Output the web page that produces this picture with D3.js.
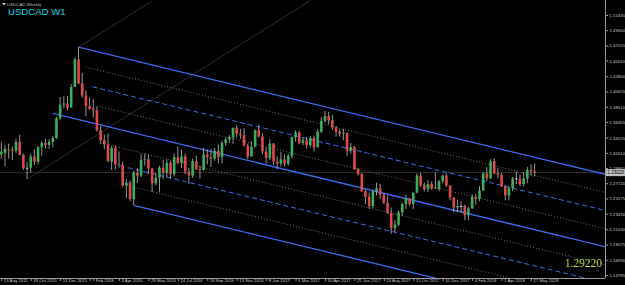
<!DOCTYPE html>
<html>
<head>
<meta charset="utf-8">
<script src="https://cdn.jsdelivr.net/npm/d3@7"></script>
<style>
html, body { margin: 0; padding: 0; background: #000; }
svg { display: block; }
</style>
</head>
<body>
<svg id="chart" width="625" height="285"></svg>
<script>
// weekly USDCAD bars, first bar is the week of 23 Aug 2015 — [open, high, low, close]
const candles = [
	[1.3180, 1.3353, 1.3120, 1.3215], [1.3200, 1.3310, 1.3010, 1.3255], [1.3250, 1.3330, 1.3120, 1.3245],
	[1.3245, 1.3290, 1.3100, 1.3230], [1.3230, 1.3400, 1.3200, 1.3355], [1.3360, 1.3457, 1.3240, 1.3170],
	[1.3170, 1.3190, 1.2960, 1.2990], [1.2990, 1.3070, 1.2832, 1.2990], [1.2990, 1.3190, 1.2920, 1.3150],
	[1.3150, 1.3250, 1.3030, 1.3075], [1.3075, 1.3300, 1.3040, 1.3280], [1.3280, 1.3370, 1.3160, 1.3340],
	[1.3340, 1.3400, 1.3260, 1.3310], [1.3310, 1.3390, 1.3260, 1.3355], [1.3355, 1.3440, 1.3280, 1.3410],
	[1.3410, 1.3710, 1.3400, 1.3690], [1.3690, 1.3990, 1.3660, 1.3880], [1.3880, 1.4000, 1.3830, 1.3895],
	[1.3895, 1.4003, 1.3800, 1.3840], [1.3840, 1.4170, 1.3840, 1.4130], [1.4130, 1.4550, 1.4130, 1.4520],
	[1.4520, 1.4690, 1.4170, 1.4180], [1.4180, 1.4330, 1.3980, 1.4010], [1.4010, 1.4080, 1.3720, 1.3860],
	[1.3860, 1.3990, 1.3800, 1.3820], [1.3820, 1.3960, 1.3700, 1.3800], [1.3800, 1.3860, 1.3500, 1.3520],
	[1.3520, 1.3580, 1.3330, 1.3380], [1.3380, 1.3460, 1.3250, 1.3320], [1.3320, 1.3470, 1.3080, 1.3080],
	[1.3080, 1.3300, 1.2960, 1.3270], [1.3270, 1.3300, 1.2970, 1.3040], [1.3040, 1.3220, 1.2990, 1.3030],
	[1.3030, 1.3080, 1.2720, 1.2740], [1.2740, 1.2830, 1.2560, 1.2780], [1.2780, 1.2810, 1.2520, 1.2550],
	[1.2550, 1.2950, 1.2461, 1.2920], [1.2920, 1.2990, 1.2780, 1.2880], [1.2880, 1.3190, 1.2860, 1.3100],
	[1.3100, 1.3190, 1.3020, 1.3110], [1.3110, 1.3180, 1.2900, 1.2980], [1.2980, 1.2990, 1.2650, 1.2770],
	[1.2770, 1.2920, 1.2740, 1.2850], [1.2850, 1.3020, 1.2650, 1.2990], [1.2990, 1.3100, 1.2830, 1.2920],
	[1.2920, 1.3110, 1.2850, 1.3060], [1.3060, 1.3090, 1.2840, 1.2900], [1.2900, 1.3190, 1.2870, 1.3140],
	[1.3140, 1.3290, 1.3040, 1.3060], [1.3060, 1.3250, 1.2990, 1.3150], [1.3150, 1.3190, 1.2900, 1.2940],
	[1.2940, 1.2990, 1.2761, 1.2880], [1.2880, 1.3120, 1.2850, 1.3080], [1.3080, 1.3160, 1.2960, 1.2970],
	[1.2970, 1.3020, 1.2840, 1.2960], [1.2960, 1.3270, 1.2950, 1.3180], [1.3180, 1.3250, 1.3040, 1.3140],
	[1.3140, 1.3250, 1.3000, 1.3120], [1.3120, 1.3270, 1.3090, 1.3230], [1.3230, 1.3320, 1.3050, 1.3140],
	[1.3140, 1.3370, 1.3050, 1.3340], [1.3340, 1.3420, 1.3300, 1.3390], [1.3390, 1.3450, 1.3340, 1.3420],
	[1.3420, 1.3560, 1.3330, 1.3550], [1.3550, 1.3590, 1.3420, 1.3470], [1.3470, 1.3540, 1.3400, 1.3450],
	[1.3450, 1.3550, 1.3290, 1.3300], [1.3300, 1.3330, 1.3110, 1.3150], [1.3150, 1.3370, 1.3150, 1.3290],
	[1.3290, 1.3530, 1.3280, 1.3520], [1.3520, 1.3600, 1.3420, 1.3430], [1.3430, 1.3480, 1.3180, 1.3220],
	[1.3220, 1.3280, 1.3050, 1.3130], [1.3130, 1.3390, 1.3100, 1.3330], [1.3330, 1.3340, 1.3030, 1.3080],
	[1.3080, 1.3150, 1.2969, 1.3050], [1.3050, 1.3210, 1.3010, 1.3110], [1.3110, 1.3180, 1.3010, 1.3050],
	[1.3050, 1.3190, 1.3020, 1.3160], [1.3160, 1.3430, 1.3120, 1.3420], [1.3420, 1.3520, 1.3360, 1.3490],
	[1.3490, 1.3510, 1.3320, 1.3340], [1.3340, 1.3420, 1.3310, 1.3380], [1.3380, 1.3420, 1.3260, 1.3310],
	[1.3310, 1.3440, 1.3280, 1.3410], [1.3410, 1.3440, 1.3220, 1.3280], [1.3280, 1.3540, 1.3280, 1.3500],
	[1.3500, 1.3700, 1.3480, 1.3650], [1.3650, 1.3793, 1.3630, 1.3720], [1.3720, 1.3780, 1.3600, 1.3660],
	[1.3660, 1.3740, 1.3520, 1.3560], [1.3560, 1.3580, 1.3430, 1.3500], [1.3500, 1.3530, 1.3430, 1.3470],
	[1.3470, 1.3540, 1.3380, 1.3480], [1.3480, 1.3490, 1.3160, 1.3230], [1.3230, 1.3340, 1.3190, 1.3280],
	[1.3280, 1.3300, 1.2960, 1.2970], [1.2970, 1.2990, 1.2880, 1.2900], [1.2900, 1.2920, 1.2650, 1.2660],
	[1.2660, 1.2680, 1.2480, 1.2580], [1.2580, 1.2640, 1.2410, 1.2450], [1.2450, 1.2670, 1.2420, 1.2660],
	[1.2660, 1.2780, 1.2600, 1.2700], [1.2700, 1.2760, 1.2550, 1.2610], [1.2610, 1.2630, 1.2480, 1.2500],
	[1.2500, 1.2600, 1.2340, 1.2350], [1.2350, 1.2430, 1.2061, 1.2140], [1.2140, 1.2250, 1.2080, 1.2190],
	[1.2190, 1.2390, 1.2170, 1.2360], [1.2360, 1.2500, 1.2310, 1.2480], [1.2480, 1.2610, 1.2410, 1.2560],
	[1.2560, 1.2560, 1.2450, 1.2480], [1.2480, 1.2640, 1.2410, 1.2640], [1.2640, 1.2910, 1.2630, 1.2880],
	[1.2880, 1.2920, 1.2720, 1.2740], [1.2740, 1.2780, 1.2660, 1.2690], [1.2690, 1.2820, 1.2650, 1.2760],
	[1.2760, 1.2800, 1.2680, 1.2700], [1.2700, 1.2920, 1.2690, 1.2690], [1.2690, 1.2820, 1.2660, 1.2800],
	[1.2800, 1.2890, 1.2770, 1.2880], [1.2880, 1.2910, 1.2720, 1.2740], [1.2740, 1.2740, 1.2530, 1.2570],
	[1.2570, 1.2580, 1.2360, 1.2430], [1.2430, 1.2540, 1.2370, 1.2450], [1.2450, 1.2520, 1.2360, 1.2450],
	[1.2450, 1.2470, 1.2250, 1.2320], [1.2320, 1.2440, 1.2250, 1.2420], [1.2420, 1.2620, 1.2410, 1.2580],
	[1.2580, 1.2620, 1.2470, 1.2550], [1.2550, 1.2730, 1.2520, 1.2670], [1.2670, 1.2930, 1.2660, 1.2910],
	[1.2910, 1.3000, 1.2800, 1.2840], [1.2840, 1.3110, 1.2840, 1.3080], [1.3080, 1.3125, 1.2900, 1.2910],
	[1.2910, 1.2990, 1.2840, 1.2890], [1.2890, 1.2920, 1.2720, 1.2730], [1.2730, 1.2750, 1.2530, 1.2600],
	[1.2600, 1.2730, 1.2530, 1.2700], [1.2700, 1.2860, 1.2660, 1.2840], [1.2840, 1.2940, 1.2760, 1.2840],
	[1.2840, 1.2890, 1.2730, 1.2760], [1.2760, 1.2930, 1.2730, 1.2840], [1.2840, 1.3000, 1.2770, 1.2960],
	[1.2960, 1.3040, 1.2880, 1.2940], [1.2940, 1.3050, 1.2870, 1.2922]
]

const priceLabels = ['1.51445', '1.49300', '1.47155', '1.45010', '1.42800', '1.40655', '1.38510', '1.36365', '1.34155',
	'1.32010', '1.29865', '1.27720', '1.25575', '1.23430', '1.21230', '1.19075', '1.16930', '1.14785']
const dateLabels = ['23 Aug 2015', '18 Oct 2015', '13 Dec 2015', '7 Feb 2016', '3 Apr 2016', '29 May 2016', '24 Jul 2016',
	'18 Sep 2016', '13 Nov 2016', '8 Jan 2017', '5 Mar 2017', '30 Apr 2017', '25 Jun 2017', '20 Aug 2017',
	'15 Oct 2017', '10 Dec 2017', '4 Feb 2018', '1 Apr 2018', '27 May 2018']
const dateLabelEvery = 8
const lastPrice = 1.29220

// pitchfork anchors: handle, upper, lower (bar index, price)
const forkPoints = [[14, 1.3757], [21, 1.4690], [36, 1.2461]]
const forkLevels = [0, 0.25, 0.5, 0.75, 1, 1.25, 1.5, 1.75, 2]

// faint rising trend lines (bar index, price) pairs
const trendLines = [
	[[7, 1.2832], [84, 1.5348]],
	[[21, 1.4690], [41, 1.5343]]
]

const width = 625
const height = 285
const plot = { left: 0, right: 605, top: 0, bottom: 278 }

const svg = d3.select('#chart')
svg.append('rect').attr('width', width).attr('height', height).attr('fill', '#000')

const x = d3.scaleLinear().domain([0, 144]).range([1.3, 531])
const y = d3.scaleLinear().domain([1.14785, 1.51445]).range([275, 15])

svg.append('clipPath').attr('id', 'plotclip')
	.append('rect').attr('x', plot.left).attr('y', plot.top)
	.attr('width', plot.right - plot.left).attr('height', plot.bottom - plot.top)

const g = svg.append('g').attr('clip-path', 'url(#plotclip)')

// bid line
g.append('line')
	.attr('x1', plot.left).attr('x2', plot.right)
	.attr('y1', y(lastPrice)).attr('y2', y(lastPrice))
	.attr('stroke', '#2c2c2c').attr('stroke-width', 1)

g.selectAll('.trend')
	.data(trendLines)
	.join('line')
	.attr('class', 'trend')
	.attr('x1', d => x(d[0][0])).attr('y1', d => y(d[0][1]))
	.attr('x2', d => x(d[1][0])).attr('y2', d => y(d[1][1]))
	.attr('stroke', '#3a3a3a').attr('stroke-width', 0.8)

// pitchfork
const [p1, p2, p3] = forkPoints
const mid = [(p2[0] + p3[0]) / 2, (p2[1] + p3[1]) / 2]
const slope = (mid[1] - p1[1]) / (mid[0] - p1[0])
const endBar = x.invert(plot.right + 5)

forkLevels.forEach(t => {
	const start = t === 1 ? p1 : [p2[0] + (p3[0] - p2[0]) * t / 2, p2[1] + (p3[1] - p2[1]) * t / 2]
	const endPrice = start[1] + slope * (endBar - start[0])
	const whole = t % 1 === 0
	const half = !whole && t % 0.5 === 0
	g.append('line')
		.attr('x1', x(start[0])).attr('y1', y(start[1]))
		.attr('x2', x(endBar)).attr('y2', y(endPrice))
		.attr('stroke', whole || half ? '#3a6cf0' : '#6e6e6e')
		.attr('stroke-width', whole ? 1.3 : 1)
		.attr('stroke-dasharray', whole ? null : half ? '5,3' : '1,2')
})

// candles
const bar = g.append('g').selectAll('g')
	.data(candles)
	.join('g')

bar.append('line')
	.attr('x1', (d, i) => x(i)).attr('x2', (d, i) => x(i))
	.attr('y1', d => y(d[1])).attr('y2', d => y(d[2]))
	.attr('stroke', '#bdbdbd').attr('stroke-width', 0.8)

bar.append('rect')
	.attr('x', (d, i) => x(i) - 1.3)
	.attr('width', 2.6)
	.attr('y', d => y(Math.max(d[0], d[3])))
	.attr('height', d => Math.max(0.8, Math.abs(y(d[0]) - y(d[3]))))
	.attr('fill', d => d[3] > d[0] ? '#3cae5c' : d[3] < d[0] ? '#dd4a4a' : '#e0e0e0')

// axes
const yAxis = d3.axisRight(y)
	.tickValues(priceLabels.map(Number))
	.tickFormat((d, i) => priceLabels[i])
	.tickSize(3)
	.tickPadding(1.5)

const yg = svg.append('g').attr('transform', `translate(${plot.right},0)`).call(yAxis)
yg.select('.domain').attr('d', `M0.5,0V${plot.bottom}`).attr('stroke', '#9a9a9a')

const xAxis = d3.axisBottom(x)
	.tickValues(dateLabels.map((d, i) => i * dateLabelEvery))
	.tickFormat((d, i) => dateLabels[i])
	.tickSize(3)
	.tickPadding(0)

const xg = svg.append('g').attr('transform', `translate(0,${plot.bottom})`).call(xAxis)
xg.select('.domain').attr('d', `M0,0.5H${plot.right}`).attr('stroke', '#9a9a9a')
xg.selectAll('.tick text').attr('text-anchor', 'start').attr('dx', 2).attr('dy', '0.2em')

svg.selectAll('.tick line').attr('stroke', '#9a9a9a')
svg.selectAll('.tick text')
	.attr('fill', '#c8c8c8')
	.attr('font-family', 'Liberation Sans, Arial, sans-serif')
	.attr('font-size', 4.3)

// price marker on the axis
const marker = svg.append('g').attr('transform', `translate(${plot.right},${y(lastPrice)})`)
marker.append('rect').attr('x', 1).attr('y', -3.5).attr('width', 19).attr('height', 7).attr('fill', '#bcbcbc')
marker.append('text').attr('x', 2.5).attr('y', 1.8)
	.attr('font-family', 'Liberation Sans, Arial, sans-serif').attr('font-size', 4.6)
	.attr('fill', '#000').text(d3.format('.5f')(lastPrice))

// titles
svg.append('path').attr('d', 'M2,3H6L4,5.5Z').attr('fill', '#c8c8c8')
svg.append('text').attr('x', 7).attr('y', 6)
	.attr('font-family', 'Liberation Sans, Arial, sans-serif').attr('font-size', 4.4)
	.attr('fill', '#bdbdbd').text('USDCAD,Weekly')
svg.append('text').attr('x', 8).attr('y', 14.6)
	.attr('font-family', 'Liberation Sans, Arial, sans-serif').attr('font-size', 9.6)
	.attr('fill', '#19d3e6').text('USDCAD W1')

svg.append('text').attr('x', 602).attr('y', 266.5).attr('text-anchor', 'end')
	.attr('font-family', 'Liberation Serif, Times New Roman, serif').attr('font-size', 11.5)
	.attr('fill', '#b8d84a').text(d3.format('.5f')(lastPrice))
</script>
</body>
</html>
